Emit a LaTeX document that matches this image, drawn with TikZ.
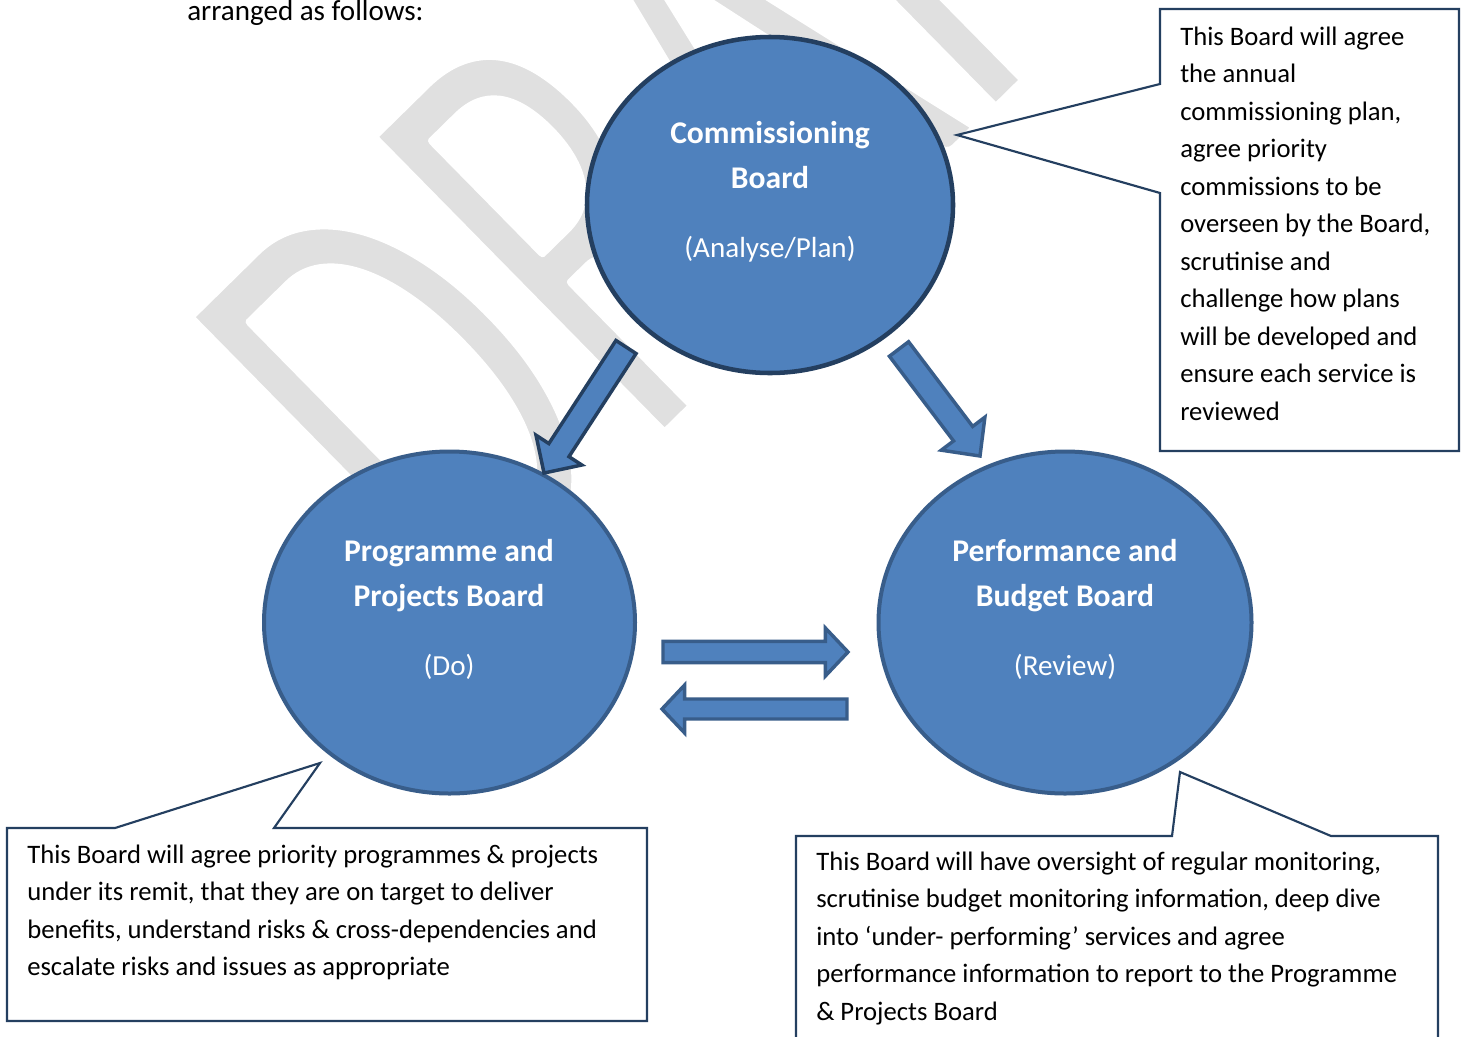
\documentclass[tikz,border=0pt]{standalone}
\usepackage{fontspec}
\setmainfont{Carlito}
\usetikzlibrary{calc,shapes.geometric}

\definecolor{boardfill}{HTML}{4F81BD}
\definecolor{boardedge}{HTML}{385D8A}
\definecolor{darkedge}{HTML}{243F60}
\definecolor{wmgray}{HTML}{E0E0E0}

\tikzset{
  board/.style={ellipse, draw=boardedge, line width=3pt, fill=boardfill, inner sep=0},
  topboard/.style={board, draw=darkedge, line width=3.4pt},
  blockarr/.style={draw=boardedge, line width=2.6pt, fill=boardfill, line join=miter},
  darkarr/.style={blockarr, draw=darkedge},
  callout/.style={draw=darkedge, line width=1.6pt, fill=white, line join=miter},
  title/.style={text=white, font=\bfseries\fontsize{23.7}{33.75}\selectfont, align=center, inner sep=0, anchor=base},
  subtitle/.style={text=white, font=\fontsize{21.8}{26}\selectfont, inner sep=0, anchor=base},
  body/.style={font=\fontsize{20}{28.125}\selectfont, align=left, inner sep=0, anchor=base west},
  wmtext/.style={rotate=44.5, anchor=base west, inner sep=0},
}

% block arrow: tail, tip, shaft half-width, head half-width, head length, style
\newcommand\blockarrow[6]{%
  \coordinate (ba-hb) at ($(#2)!#5!(#1)$);
  \draw[#6] ($(#1)!#3!90:(#2)$) -- ($(ba-hb)!#3!-90:(#1)$) -- ($(ba-hb)!#4!-90:(#1)$)
    -- (#2) -- ($(ba-hb)!#4!90:(#1)$) -- ($(ba-hb)!#3!90:(#1)$) -- ($(#1)!#3!-90:(#2)$) -- cycle;
}
% the watermark word, set tall and narrow
\newcommand\wmword{\scalebox{0.64}[1]{\fontsize{487}{487}\selectfont DRAFT}}

\begin{document}
\begin{tikzpicture}[x=0.75pt, y=-0.75pt]
\useasboundingbox (0,0) rectangle (1466,1036);
\fill[white] (0,0) rectangle (1466,1036);

% watermark: grey letters, thinned by a white outline stroke
\node[wmtext, text=wmgray] (wm) at (462,633) {\wmword};
\node[wmtext, text=white] (wmthin) at (462,633)
  {\special{pdf:literal direct 1 Tr 7 w 1 J 1 j}\wmword\special{pdf:literal direct 0 Tr}};

% leading sentence
\node[font=\fontsize{21.8}{26}\selectfont, anchor=base west, inner sep=0] (intro) at (187,20.7) {arranged as follows:};

% the three boards
\node[topboard, minimum width=274.5pt, minimum height=252pt] (comm) at (770,205) {};
\node[board, minimum width=278.25pt, minimum height=256.5pt] (prog) at (449.5,622.5) {};
\node[board, minimum width=279.75pt, minimum height=256.5pt] (perf) at (1065,622.5) {};

% block arrows between the boards
\coordinate (a1tail) at (626,347);
\coordinate (a1tip) at (544,473);
\coordinate (a2tail) at (899,349);
\coordinate (a2tip) at (980,456);
\coordinate (a3tail) at (663,652);
\coordinate (a3tip) at (848,652);
\coordinate (a4tail) at (847,709);
\coordinate (a4tip) at (662,709);
\blockarrow{a1tail}{a1tip}{9pt}{20.5pt}{20.5pt}{darkarr}
\blockarrow{a2tail}{a2tip}{9pt}{20.5pt}{21pt}{blockarr}
\blockarrow{a3tail}{a3tip}{8pt}{18pt}{17pt}{blockarr}
\blockarrow{a4tail}{a4tip}{7.5pt}{18pt}{17pt}{blockarr}

% board labels (base anchor sits on the last line)
\node[title] (commT) at (770,188) {Commissioning\\Board};
\node[subtitle] (commS) at (770,257) {(Analyse/Plan)};
\node[title] (progT) at (449,606) {Programme and\\Projects Board};
\node[subtitle] (progS) at (449,675) {(Do)};
\node[title] (perfT) at (1065,606) {Performance and\\Budget Board};
\node[subtitle] (perfS) at (1065,675) {(Review)};

% callouts
\draw[callout] (1160,9) -- (1459,9) -- (1459,451) -- (1160,451) -- (1160,193) -- (957,135) -- (1160,84) -- cycle;
\draw[callout] (7,828) -- (115,828) -- (320,763) -- (274,828) -- (647,828) -- (647,1021) -- (7,1021) -- cycle;
\draw[callout] (796,836) -- (1172,836) -- (1180,772) -- (1331,836) -- (1438,836) -- (1438,1060) -- (796,1060) -- cycle;

\node[body] (noteComm) at (1180,420) {This Board will agree\\the annual\\commissioning plan,\\agree priority\\commissions to be\\overseen by the Board,\\scrutinise and\\challenge how plans\\will be developed and\\ensure each service is\\reviewed};
\node[body] (noteProg) at (27,975.5) {This Board will agree priority programmes \& projects\\under its remit, that they are on target to deliver\\benefits, understand risks \& cross-dependencies and\\escalate risks and issues as appropriate};
\node[body] (notePerf) at (816,1020) {This Board will have oversight of regular monitoring,\\scrutinise budget monitoring information, deep dive\\into ‘under- performing’ services and agree\\performance information to report to the Programme\\\& Projects Board};
\end{tikzpicture}
\end{document}
